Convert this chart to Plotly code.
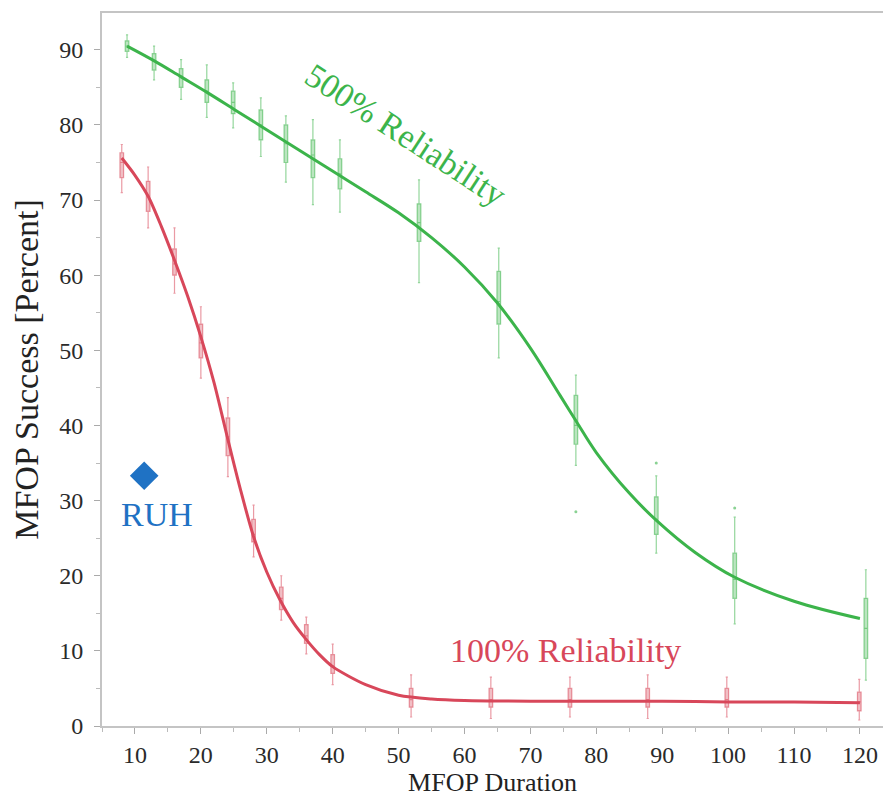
import plotly.graph_objects as go

# Fitted curves (MFOP duration vs. success %)
green_curve_x = [8.8, 13, 17, 21, 25, 29, 33, 37, 41, 45, 50, 55, 60, 65, 70, 74.5, 77, 80, 85, 89.2, 95, 101, 110, 120]
green_curve_y = [90.5, 88.5, 86.4, 84.3, 82.1, 79.9, 77.7, 75.5, 73.3, 71.1, 68.3, 65.0, 61.1, 56.3, 50.3, 44.0, 40.5, 36.4, 31.0, 27.3, 23.1, 19.8, 16.6, 14.3]
red_curve_x = [8.0, 10, 12, 14, 16, 18, 20, 22, 24, 26, 28, 30, 32, 34, 36, 38, 40, 45, 50, 55, 60, 70, 80, 90, 100, 110, 120]
red_curve_y = [75.6, 73.3, 70.5, 66.5, 62.0, 57.2, 51.8, 45.7, 38.5, 31.5, 25.2, 20.5, 16.8, 13.8, 11.5, 9.5, 7.9, 5.5, 4.1, 3.6, 3.4, 3.3, 3.3, 3.3, 3.2, 3.2, 3.1]

# Spread of observed results at each tested duration
green_x = [8.8, 12.9, 17.0, 20.9, 24.9, 29.1, 32.9, 37.0, 41.1, 53.1, 65.2, 76.9, 89.1, 101.0, 120.9]
green_lo = [89.0, 86.0, 83.4, 81.0, 79.6, 75.8, 72.4, 69.4, 68.4, 59.0, 49.0, 34.7, 23.0, 13.6, 6.1]
green_q1 = [89.8, 87.3, 85.0, 83.0, 81.5, 78.0, 75.0, 73.0, 71.5, 64.5, 53.5, 37.5, 25.5, 17.0, 9.0]
green_med = [90.5, 88.5, 86.5, 84.5, 83.0, 80.0, 77.5, 76.0, 73.5, 67.0, 56.5, 40.0, 27.5, 19.5, 13.0]
green_q3 = [91.2, 89.5, 87.5, 86.0, 84.5, 82.0, 80.0, 78.0, 75.5, 69.5, 60.5, 44.0, 30.5, 23.0, 17.0]
green_hi = [92.0, 90.5, 88.7, 88.0, 85.6, 83.6, 81.2, 80.7, 78.0, 72.7, 63.6, 46.7, 33.3, 27.8, 20.8]
green_out_x = [76.9, 89.1, 101.0]
green_out_y = [28.5, 35.0, 29.0]

red_x = [8.0, 12.0, 16.0, 20.0, 24.1, 28.0, 32.2, 36.0, 40.0, 51.9, 64.0, 76.0, 87.8, 99.8, 119.9]
red_lo = [71.0, 66.3, 57.6, 46.3, 33.2, 22.5, 14.1, 9.6, 5.5, 1.2, 1.0, 1.2, 1.0, 1.2, 0.8]
red_q1 = [73.0, 68.5, 60.0, 49.0, 36.0, 24.5, 15.5, 11.0, 7.0, 2.5, 2.5, 2.5, 2.5, 2.5, 2.0]
red_med = [75.0, 70.5, 61.5, 51.0, 38.5, 25.5, 17.0, 12.0, 8.0, 3.5, 3.5, 3.5, 3.5, 3.5, 3.2]
red_q3 = [76.3, 72.5, 63.5, 53.5, 41.0, 27.5, 18.5, 13.5, 9.5, 5.0, 5.0, 5.0, 5.0, 5.0, 4.5]
red_hi = [77.4, 74.4, 66.3, 55.8, 43.7, 29.4, 20.0, 14.5, 10.9, 6.8, 6.5, 6.5, 6.8, 6.5, 6.2]

ruh_x = [11.4]
ruh_y = [33.3]

GREEN = "#3cb44b"
RED = "#d8475a"
BLUE = "#1f72c4"
SERIF = "Liberation Serif, Times New Roman, serif"

fig = go.Figure()


def spread(x, lo, q1, med, q3, hi, color, fill):
    fig.add_trace(go.Box(
        x=x, lowerfence=lo, q1=q1, median=med, q3=q3, upperfence=hi,
        width=0.55, whiskerwidth=0.6, boxpoints=False,
        line=dict(color=color, width=1.2), fillcolor=fill,
        showlegend=False, hoverinfo="skip",
    ))


spread(green_x, green_lo, green_q1, green_med, green_q3, green_hi,
       "rgba(60,180,75,0.55)", "rgba(60,180,75,0.35)")
spread(red_x, red_lo, red_q1, red_med, red_q3, red_hi,
       "rgba(216,71,90,0.55)", "rgba(216,71,90,0.35)")

fig.add_trace(go.Scatter(x=green_out_x, y=green_out_y, mode="markers",
                         marker=dict(color="rgba(60,180,75,0.6)", size=3),
                         showlegend=False, hoverinfo="skip"))

fig.add_trace(go.Scatter(x=green_curve_x, y=green_curve_y, mode="lines",
                         line=dict(color=GREEN, width=3, shape="spline", smoothing=1.0),
                         showlegend=False))
fig.add_trace(go.Scatter(x=red_curve_x, y=red_curve_y, mode="lines",
                         line=dict(color=RED, width=3, shape="spline", smoothing=0.8),
                         showlegend=False))

fig.add_trace(go.Scatter(x=ruh_x, y=ruh_y, mode="markers",
                         marker=dict(symbol="diamond", color=BLUE, size=22),
                         showlegend=False))

fig.add_annotation(x=51, y=78.7, text="500% Reliability", textangle=33,
                   showarrow=False, font=dict(family=SERIF, size=34, color=GREEN))
fig.add_annotation(x=75.4, y=10.0, text="100% Reliability",
                   showarrow=False, font=dict(family=SERIF, size=34, color=RED))
fig.add_annotation(x=13.3, y=28.1, text="RUH",
                   showarrow=False, font=dict(family=SERIF, size=34, color=BLUE))

axis_common = dict(
    showgrid=False, zeroline=False, showline=True, linecolor="#c4c4c4", linewidth=2,
    ticks="outside", tickcolor="#aaaaaa", ticklen=6, tickwidth=1,
    tickfont=dict(family=SERIF, size=24, color="#2a2a2a"),
    minor=dict(ticks="outside", ticklen=4, tickcolor="#bbbbbb", dtick=5),
)

fig.update_xaxes(range=[5, 123.5], tickmode="linear", tick0=10, dtick=10,
                 mirror=True,
                 title=dict(text="MFOP Duration", font=dict(family=SERIF, size=26, color="#222222"),
                            standoff=2),
                 **axis_common)
fig.update_yaxes(range=[0, 94.9], tickmode="linear", tick0=0, dtick=10,
                 ticklabelstandoff=6,
                 title=dict(text="MFOP Success [Percent]", font=dict(family=SERIF, size=34, color="#222222"),
                            standoff=10),
                 **axis_common)

fig.update_layout(
    width=883, height=797,
    margin=dict(l=102, r=0, t=13, b=71),
    paper_bgcolor="white", plot_bgcolor="white",
    showlegend=False,
)

fig.write_html("out.html")
